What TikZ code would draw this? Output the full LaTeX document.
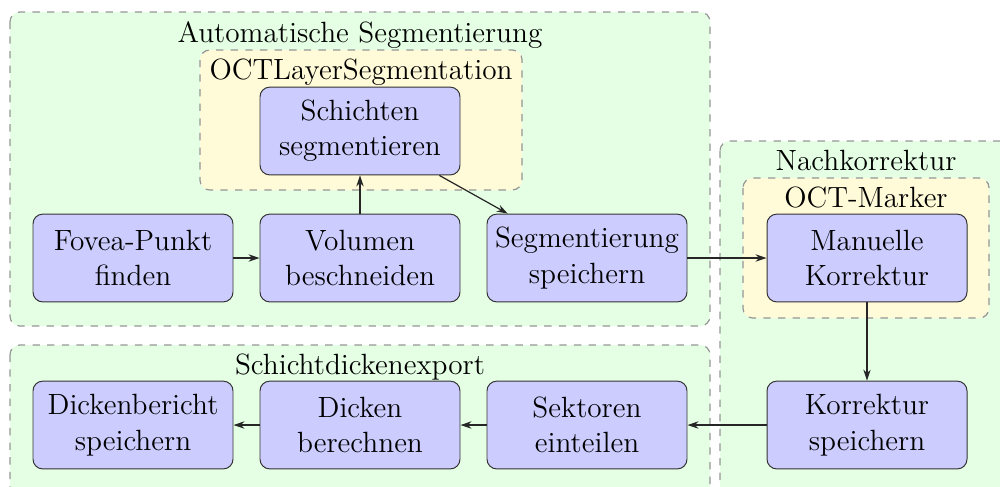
\documentclass[tikz,border=0pt]{standalone}
\usetikzlibrary{arrows.meta}
\definecolor{boxblue}{RGB}{204,204,255}
\definecolor{groupgreen}{RGB}{229,255,229}
\definecolor{groupyellow}{RGB}{255,250,215}
\definecolor{dashgray}{RGB}{150,150,150}
\begin{document}
\begin{tikzpicture}[x=0.41pt,y=-0.41pt,
  stepbox/.style={draw=black!80, fill=boxblue, rounded corners=4pt, minimum width=82pt, minimum height=36pt, align=center, inner sep=1pt, font=\fontsize{12}{14.5}\selectfont},
  groupbox/.style={draw=dashgray, dashed, rounded corners=4pt, line width=0.5pt},
  grouptitle/.style={anchor=base, inner sep=0pt, font=\fontsize{12}{14.5}\selectfont},
  flow/.style={-{Stealth[length=4.5pt,width=3pt]}, black!85, line width=0.5pt}]
\path[use as bounding box] (0,0) rectangle (1000,486);
\clip (0,0) rectangle (1000,486);
% groups
\path[groupbox, fill=groupgreen] (10,12) rectangle (710,326);
\path[groupbox, fill=groupyellow] (200,50) rectangle (522,190);
\path[groupbox, fill=groupgreen] (720,141) rectangle (1012,520);
\path[groupbox, fill=groupyellow] (743,178) rectangle (989,318);
\path[groupbox, fill=groupgreen] (10,345) rectangle (710,520);
% titles
\node[grouptitle] (tauto) at (360,42) {Automatische Segmentierung};
\node[grouptitle] (toct) at (361,79) {OCTLayerSegmentation};
\node[grouptitle] (tnach) at (866,170) {Nachkorrektur};
\node[grouptitle] (tmarker) at (866,207) {OCT-Marker};
\node[grouptitle] (tdicke) at (360,374) {Schichtdickenexport};
% steps
\node[stepbox] (schichten) at (360,131) {Schichten\\segmentieren};
\node[stepbox] (fovea) at (133,258) {Fovea-Punkt\\finden};
\node[stepbox] (volumen) at (360,258) {Volumen\\beschneiden};
\node[stepbox] (segsp) at (587,258) {Segmentierung\\speichern};
\node[stepbox] (manuell) at (867,258) {Manuelle\\Korrektur};
\node[stepbox] (korrsp) at (867,425) {Korrektur\\speichern};
\node[stepbox] (sektoren) at (587,425) {Sektoren\\einteilen};
\node[stepbox] (dicken) at (360,425) {Dicken\\berechnen};
\node[stepbox] (bericht) at (133,425) {Dickenbericht\\speichern};
% connectors
\draw[flow] (fovea) -- (volumen);
\draw[flow] (volumen) -- (schichten);
\draw[flow] (schichten) -- (segsp);
\draw[flow] (segsp) -- (manuell);
\draw[flow] (manuell) -- (korrsp);
\draw[flow] (korrsp) -- (sektoren);
\draw[flow] (sektoren) -- (dicken);
\draw[flow] (dicken) -- (bericht);
\end{tikzpicture}
\end{document}
